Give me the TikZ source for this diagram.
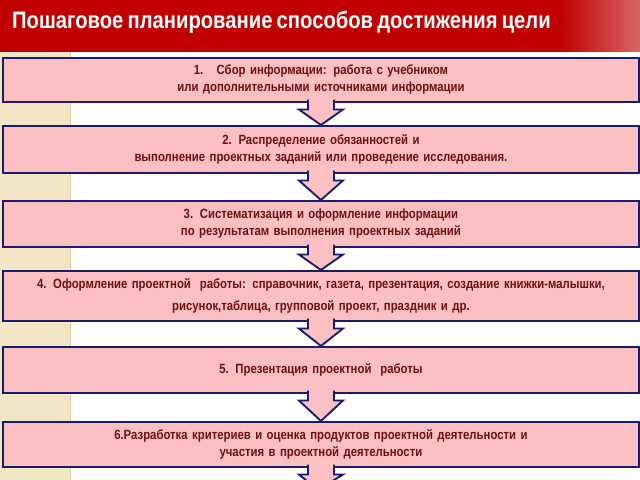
\documentclass[tikz,border=0pt]{standalone}
\usepackage{fontspec}
\setmainfont{Liberation Sans}[FakeStretch=0.85,WordSpace=0.75]
\usetikzlibrary{calc}
\definecolor{boxfill}{HTML}{FDC0C2}
\definecolor{navy}{HTML}{1A1A6E}
\definecolor{txt}{HTML}{6E1010}
\definecolor{titlered}{HTML}{C00000}
\definecolor{beige}{HTML}{F2E6C4}
\tikzset{
 stepbox/.style={draw=navy,line width=1.6pt,fill=boxfill,minimum width=636*0.03cm,text width=630*0.03cm,align=center,font=\bfseries\fontsize{11.4}{14.5}\selectfont,text=txt,anchor=north west,inner sep=0pt},
 flow/.style={draw=navy,line width=1.6pt,fill=boxfill,line join=miter}
}
\newcommand{\flowarrow}[2]{%
 \draw[flow] ($(#1.south)+(-0.39,0.1)$) -- ($(#1.south)+(-0.39,-0.2)$) -- ($(#1.south)+(-0.66,-0.2)$) -- ($(#2.north)+(0,0)$) -- ($(#1.south)+(0.66,-0.2)$) -- ($(#1.south)+(0.39,-0.2)$) -- ($(#1.south)+(0.39,0.1)$);}
\begin{document}
\begin{tikzpicture}[x=0.03cm,y=-0.03cm]
\useasboundingbox (0,0) rectangle (640,480);
\fill[white] (0,0) rectangle (640,480);
\fill[beige] (0,0) rectangle (70,480);
\draw[beige!70!brown,line width=0.6pt] (70,0) -- (70,480);
\fill[titlered] (0,0) rectangle (640,52);
\fill[right color=titlered!60!white,left color=titlered] (560,0) rectangle (640,52);
\node[anchor=west,text=white,font=\bfseries\fontsize{20.3}{22}\selectfont] (title) at (8,22) {Пошаговое планирование способов достижения цели};
\node[stepbox,minimum height=44*0.03cm] (b1) at (2,57) {1.\quad Сбор информации: работа с учебником\\или дополнительными источниками информации};
\node[stepbox,minimum height=47*0.03cm] (b2) at (2,125) {2. Распределение обязанностей и\\выполнение проектных заданий или проведение исследования.};
\node[stepbox,minimum height=46*0.03cm] (b3) at (2,200) {3. Систематизация и оформление информации\\по результатам выполнения проектных заданий};
\node[stepbox,minimum height=50*0.03cm,font=\bfseries\fontsize{11.4}{18.5}\selectfont] (b4) at (2,270) {4. Оформление проектной \ работы: справочник, газета, презентация, создание книжки-малышки,\\рисунок,таблица, групповой проект, праздник и др.};
\node[stepbox,minimum height=46*0.03cm] (b5) at (2,346) {5. Презентация проектной \ работы};
\node[stepbox,minimum height=45*0.03cm] (b6) at (2,421) {6.Разработка критериев и оценка продуктов проектной деятельности и\\участия в проектной деятельности};
\coordinate (end) at (318,490);
\begin{scope}[x=1cm,y=1cm]
\flowarrow{b1}{b2}
\flowarrow{b2}{b3}
\flowarrow{b3}{b4}
\flowarrow{b4}{b5}
\flowarrow{b5}{b6}
\flowarrow{b6}{end}
\end{scope}
\end{tikzpicture}
\end{document}
